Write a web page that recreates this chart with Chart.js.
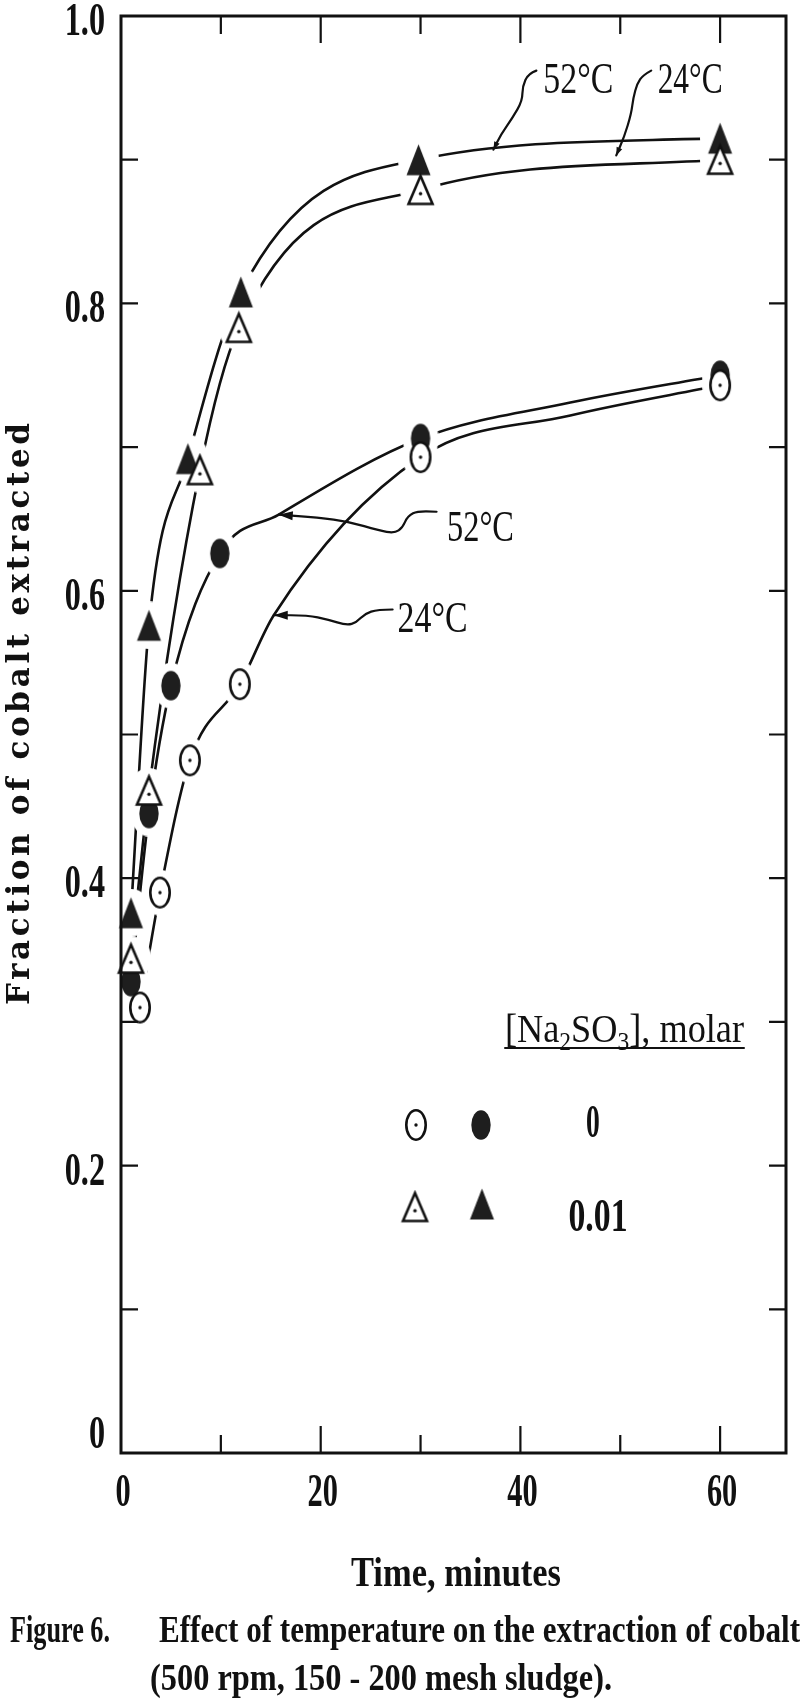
<!DOCTYPE html>
<html>
<head>
<meta charset="utf-8">
<script src="https://cdn.jsdelivr.net/npm/chart.js@4.4.1/dist/chart.umd.min.js"></script>
<style>
  html, body { margin: 0; padding: 0; background: #fff; }
  #wrap { position: relative; width: 800px; height: 1704px; }
</style>
</head>
<body>
<div id="wrap"><canvas id="cobalt-chart"></canvas></div>
<script>
// Fraction of cobalt extracted vs time (minutes)
const timeOpenTri = [1.0, 2.8, 7.9, 11.8, 30.0, 60.0];    // 24 C, 0.01 M
const fracOpenTri = [0.344, 0.461, 0.684, 0.783, 0.879, 0.900];
const timeFillTri = [1.0, 2.8, 6.7, 12.0, 29.8, 60.0];    // 52 C, 0.01 M
const fracFillTri = [0.376, 0.576, 0.692, 0.808, 0.900, 0.915];
const timeOpenCirc = [1.9, 3.9, 6.9, 11.9, 30.0, 60.0];   // 24 C, 0 M
const fracOpenCirc = [0.310, 0.390, 0.482, 0.535, 0.693, 0.743];
const timeFillCirc = [1.0, 2.8, 5.0, 9.9, 30.0, 60.0];    // 52 C, 0 M
const fracFillCirc = [0.328, 0.445, 0.534, 0.626, 0.706, 0.750];

// fitted curves for the two 0 M runs
const curveTimeOpenCirc = [1.9, 3.9, 6.9, 11.9, 15.3, 30.0, 45.0, 60.0];
const curveFracOpenCirc = [0.310, 0.390, 0.482, 0.535, 0.583, 0.693, 0.722, 0.743];
const curveTimeFillCirc = [1.0, 2.8, 5.0, 9.9, 15.8, 30.0, 45.0, 60.0];
const curveFracFillCirc = [0.328, 0.445, 0.534, 0.626, 0.653, 0.706, 0.731, 0.750];

// axis ticks
const xMajorTicks = [0, 20, 40, 60];
const xMinorTicks = [10, 30, 50];
const yTicks = [0.1, 0.2, 0.3, 0.4, 0.5, 0.6, 0.7, 0.8, 0.9];
const yLabelValues = [0, 0.2, 0.4, 0.6, 0.8, 1.0];
const yLabelText = ['0', '0.2', '0.4', '0.6', '0.8', '1.0'];

// curve labels and their wavy leaders (data units)
const curveLabels = ['52°C', '24°C', '52°C', '24°C'];
const curveLabelAt = [[45.8, 0.957], [57.0, 0.957], [36.0, 0.645], [31.2, 0.582]];
const curveLabelWidth = [70, 65, 67, 70];
const leaders = [
  [[41.6, 0.962], [40.8, 0.960], [40.2, 0.951], [40.2, 0.941], [39.2, 0.929], [38.0, 0.917], [37.3, 0.907]],
  [[53.1, 0.962], [52.3, 0.959], [51.7, 0.953], [51.3, 0.943], [51.1, 0.932], [50.4, 0.916], [49.6, 0.903]],
  [[31.6, 0.655], [29.8, 0.656], [28.7, 0.652], [28.2, 0.644], [27.4, 0.640], [25.8, 0.642], [22.9, 0.648], [19.7, 0.651], [15.8, 0.653]],
  [[27.2, 0.587], [25.7, 0.587], [24.4, 0.584], [23.6, 0.578], [22.6, 0.576], [20.7, 0.580], [18.7, 0.583], [15.3, 0.583]]
];

function toPoints(xs, ys) {
  return xs.map((x, i) => ({ x: x, y: ys[i] }));
}

// marker glyphs drawn once on small canvases
function makeMarker(kind, halo) {
  const dims = { oc: [22, 32], fc: [22, 32], ot: [27, 31], ft: [27, 34] }[kind];
  const pad = halo ? 7 : 2;
  const w = dims[0], h = dims[1];
  const c = document.createElement('canvas');
  c.width = w + pad * 2;
  c.height = h + pad * 2;
  const g = c.getContext('2d');
  const cx = c.width / 2, cy = c.height / 2;
  if (halo) {
    g.fillStyle = '#fff';
    g.beginPath();
    g.ellipse(cx, cy, w / 2 + pad, h / 2 + pad, 0, 0, Math.PI * 2);
    g.fill();
    return c;
  }
  g.lineWidth = 2.6;
  g.strokeStyle = '#111';
  g.lineJoin = 'miter';
  if (kind === 'oc' || kind === 'fc') {
    g.beginPath();
    g.ellipse(cx, cy, w / 2 - 1.3, h / 2 - 1.3, 0, 0, Math.PI * 2);
    if (kind === 'fc') {
      g.fillStyle = '#1e1e1e';
      g.fill();
    } else {
      g.fillStyle = '#fff';
      g.fill();
      g.stroke();
      g.fillStyle = '#111';
      g.beginPath();
      g.arc(cx, cy, 1.7, 0, Math.PI * 2);
      g.fill();
    }
  } else {
    g.beginPath();
    g.moveTo(cx, cy - h / 2 + 1.5);
    g.lineTo(cx + w / 2 - 1.5, cy + h / 2 - 1.5);
    g.lineTo(cx - w / 2 + 1.5, cy + h / 2 - 1.5);
    g.closePath();
    if (kind === 'ft') {
      g.fillStyle = '#1e1e1e';
      g.fill();
    } else {
      g.fillStyle = '#fff';
      g.fill();
      g.stroke();
      g.fillStyle = '#111';
      g.beginPath();
      g.arc(cx, cy + h * 0.12, 1.7, 0, Math.PI * 2);
      g.fill();
    }
  }
  return c;
}

const markers = {
  oc: makeMarker('oc'), fc: makeMarker('fc'), ot: makeMarker('ot'), ft: makeMarker('ft')
};
const halos = {
  oc: makeMarker('oc', true), fc: makeMarker('fc', true), ot: makeMarker('ot', true), ft: makeMarker('ft', true)
};

const series = [
  { label: '24°C, 0.01 M', xs: timeOpenTri, ys: fracOpenTri, cx: timeOpenTri, cy: fracOpenTri, kind: 'ot' },
  { label: '52°C, 0.01 M', xs: timeFillTri, ys: fracFillTri, cx: timeFillTri, cy: fracFillTri, kind: 'ft' },
  { label: '24°C, 0 M', xs: timeOpenCirc, ys: fracOpenCirc, cx: curveTimeOpenCirc, cy: curveFracOpenCirc, kind: 'oc' },
  { label: '52°C, 0 M', xs: timeFillCirc, ys: fracFillCirc, cx: curveTimeFillCirc, cy: curveFracFillCirc, kind: 'fc' }
];

const datasets = [];
series.forEach(s => {
  datasets.push({
    label: s.label + ' curve',
    data: toPoints(s.cx, s.cy),
    showLine: true,
    borderColor: '#111',
    borderWidth: 2.6,
    cubicInterpolationMode: 'monotone',
    pointRadius: 0,
    order: 3
  });
});
series.forEach(s => {
  datasets.push({
    label: s.label + ' gap',
    data: toPoints(s.xs, s.ys),
    showLine: false,
    pointStyle: halos[s.kind],
    pointRadius: 12,
    clip: false,
    order: 2
  });
});
series.forEach(s => {
  datasets.push({
    label: s.label,
    data: toPoints(s.xs, s.ys),
    showLine: false,
    pointStyle: markers[s.kind],
    pointRadius: 12,
    clip: false,
    order: 1
  });
});

const SERIF = '"Liberation Serif", "Times New Roman", serif';

// text squeezed horizontally, like the condensed face of the original
function drawText(ctx, text, x, y, font, opts) {
  ctx.save();
  ctx.font = font;
  const natural = ctx.measureText(text).width;
  const sx = opts.width ? opts.width / natural : (opts.sx || 1);
  const w = natural * sx;
  let left = x;
  if (opts.align === 'center') left = x - w / 2;
  if (opts.align === 'right') left = x - w;
  ctx.translate(left, y);
  ctx.scale(sx, 1);
  ctx.textAlign = 'left';
  ctx.textBaseline = 'alphabetic';
  ctx.fillStyle = '#111';
  ctx.fillText(text, 0, 0);
  ctx.restore();
}

function smoothStroke(ctx, pts) {
  ctx.beginPath();
  ctx.moveTo(pts[0][0], pts[0][1]);
  for (let i = 1; i < pts.length - 1; i++) {
    const mx = (pts[i][0] + pts[i + 1][0]) / 2;
    const my = (pts[i][1] + pts[i + 1][1]) / 2;
    ctx.quadraticCurveTo(pts[i][0], pts[i][1], mx, my);
  }
  const last = pts[pts.length - 1];
  ctx.lineTo(last[0], last[1]);
  ctx.stroke();
}

function arrowHead(ctx, from, to, len, half) {
  const a = Math.atan2(to[1] - from[1], to[0] - from[0]);
  ctx.beginPath();
  ctx.moveTo(to[0], to[1]);
  ctx.lineTo(to[0] - len * Math.cos(a) + half * Math.sin(a), to[1] - len * Math.sin(a) - half * Math.cos(a));
  ctx.lineTo(to[0] - len * Math.cos(a) - half * Math.sin(a), to[1] - len * Math.sin(a) + half * Math.cos(a));
  ctx.closePath();
  ctx.fill();
}

const figurePlugin = {
  id: 'figure',
  afterDraw(chart) {
    const ctx = chart.ctx;
    const area = chart.chartArea;
    const xs = chart.scales.x, ys = chart.scales.y;
    ctx.save();
    ctx.strokeStyle = '#111';
    ctx.fillStyle = '#111';

    // frame
    ctx.lineWidth = 3;
    ctx.strokeRect(area.left, area.top, area.right - area.left, area.bottom - area.top);

    // inward ticks
    ctx.lineWidth = 2.2;
    ctx.beginPath();
    xMajorTicks.concat(xMinorTicks).forEach(v => {
      if (v === 0) return;
      const len = xMajorTicks.includes(v) ? 27 : 18;
      const px = xs.getPixelForValue(v);
      ctx.moveTo(px, area.bottom); ctx.lineTo(px, area.bottom - len);
      ctx.moveTo(px, area.top); ctx.lineTo(px, area.top + len);
    });
    yTicks.forEach(v => {
      const py = ys.getPixelForValue(v);
      ctx.moveTo(area.left, py); ctx.lineTo(area.left + 17, py);
      ctx.moveTo(area.right, py); ctx.lineTo(area.right - 17, py);
    });
    ctx.stroke();

    // tick labels
    const tickFont = 'bold 46px ' + SERIF;
    xMajorTicks.forEach(v => {
      drawText(ctx, String(v), xs.getPixelForValue(v) + 2, 1506, tickFont, { sx: 0.66, align: 'center' });
    });
    yLabelValues.forEach((v, i) => {
      const py = v === 0 ? area.bottom - 20 : ys.getPixelForValue(v) + 4;
      drawText(ctx, yLabelText[i], 105, py + 15, tickFont, { sx: 0.7, align: 'right' });
    });

    // axis titles
    drawText(ctx, 'Time, minutes', 456, 1586, 'bold 42px ' + SERIF, { width: 210, align: 'center' });
    ctx.save();
    ctx.translate(29, 714);
    ctx.rotate(-Math.PI / 2);
    ctx.font = 'bold 31px "DejaVu Serif", serif';
    ctx.textAlign = 'left';
    ctx.textBaseline = 'alphabetic';
    const yTitle = 'Fraction of cobalt extracted';
    const natural = ctx.measureText(yTitle).width;
    const spacing = (582 - natural) / (yTitle.length - 1);
    if ('letterSpacing' in ctx) {
      ctx.letterSpacing = spacing.toFixed(2) + 'px';
      ctx.fillText(yTitle, -291, 0);
    } else {
      let cx = -291;
      for (const ch of yTitle) {
        ctx.fillText(ch, cx, 0);
        cx += ctx.measureText(ch).width + spacing;
      }
    }
    ctx.restore();

    // curve labels with wavy leaders
    ctx.lineWidth = 2.2;
    ctx.lineCap = 'round';
    leaders.forEach((pts, i) => {
      const px = pts.map(p => [xs.getPixelForValue(p[0]), ys.getPixelForValue(p[1])]);
      smoothStroke(ctx, px);
      const big = i >= 2;
      arrowHead(ctx, px[px.length - 2], px[px.length - 1], big ? 14 : 8, big ? 4.5 : 3);
    });
    curveLabels.forEach((t, i) => {
      const cx = xs.getPixelForValue(curveLabelAt[i][0]);
      const cy = ys.getPixelForValue(curveLabelAt[i][1]);
      drawText(ctx, t, cx, cy + 15, '44px ' + SERIF, { width: curveLabelWidth[i], align: 'center' });
    });

    // legend block
    const parts = [['[Na', 40, 0], ['2', 26, 8], ['SO', 40, 0], ['3', 26, 8], ['], molar', 40, 0]];
    let total = 0;
    parts.forEach(p => { ctx.font = p[1] + 'px ' + SERIF; total += ctx.measureText(p[0]).width; });
    const sx = 239 / total;
    ctx.save();
    ctx.translate(505, 1042);
    ctx.scale(sx, 1);
    let run = 0;
    parts.forEach(p => {
      ctx.font = p[1] + 'px ' + SERIF;
      ctx.fillText(p[0], run, p[2]);
      run += ctx.measureText(p[0]).width;
    });
    ctx.restore();
    ctx.lineWidth = 2;
    ctx.beginPath();
    ctx.moveTo(505, 1048); ctx.lineTo(744, 1048);
    ctx.stroke();

    ctx.drawImage(markers.oc, 416 - markers.oc.width / 2, 1125 - markers.oc.height / 2);
    ctx.drawImage(markers.fc, 481 - markers.fc.width / 2, 1125 - markers.fc.height / 2);
    ctx.drawImage(markers.ot, 415 - markers.ot.width / 2, 1207 - markers.ot.height / 2);
    ctx.drawImage(markers.ft, 482 - markers.ft.width / 2, 1204 - markers.ft.height / 2);
    drawText(ctx, '0', 593, 1137, 'bold 46px ' + SERIF, { sx: 0.6, align: 'center' });
    drawText(ctx, '0.01', 598, 1231, 'bold 46px ' + SERIF, { width: 59, align: 'center' });

    // caption
    drawText(ctx, 'Figure 6.', 10, 1642, 'bold 38px ' + SERIF, { width: 100 });
    drawText(ctx, 'Effect of temperature on the extraction of cobalt', 159, 1642, 'bold 38px ' + SERIF, { width: 641 });
    drawText(ctx, '(500 rpm, 150 - 200 mesh sludge).', 150, 1690, 'bold 38px ' + SERIF, { width: 462 });

    ctx.restore();
  }
};

const ctx = document.getElementById('cobalt-chart').getContext('2d');
const cobaltChart = new Chart(ctx, {
  type: 'scatter',
  data: { datasets: datasets },
  options: {
    responsive: true,
    maintainAspectRatio: false,
    animation: false,
    layout: { padding: { left: 121, top: 16, right: 14, bottom: 251 } },
    scales: {
      x: { type: 'linear', display: false, min: 0, max: 66.6 },
      y: { type: 'linear', display: false, min: 0, max: 1 }
    },
    plugins: {
      legend: { display: false },
      tooltip: { enabled: false }
    }
  },
  plugins: [figurePlugin]
});
</script>
</body>
</html>
